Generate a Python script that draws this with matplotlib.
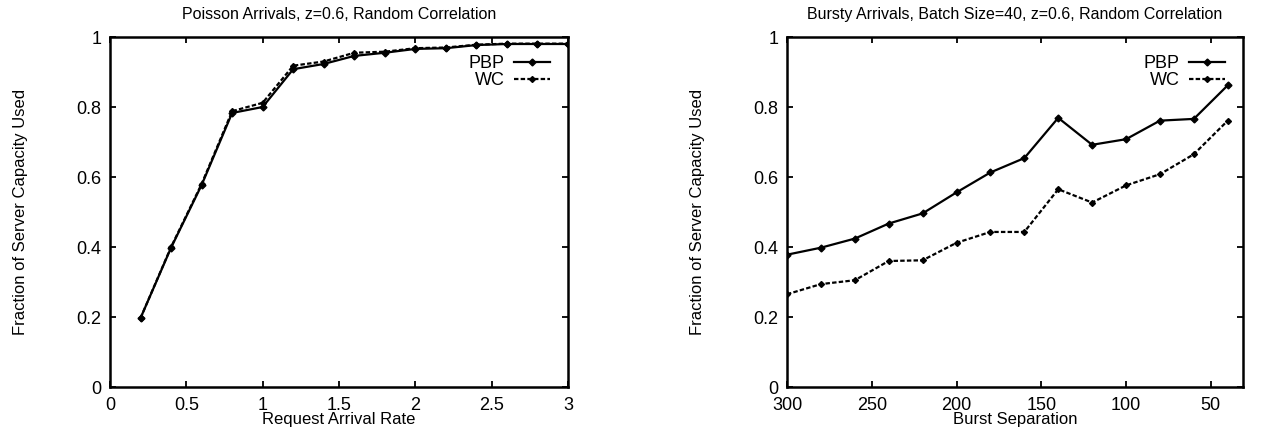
import numpy as np
import matplotlib
matplotlib.use("Agg")
import matplotlib.pyplot as plt

plt.rcParams['font.family'] = ['Liberation Sans', 'DejaVu Sans']

# left panel: poisson arrivals
rate = [0.2, 0.4, 0.6, 0.8, 1.0, 1.2, 1.4, 1.6, 1.8, 2.0, 2.2, 2.4, 2.6, 2.8, 3.0]
pbp_poisson = [0.197, 0.398, 0.577, 0.783, 0.800, 0.908, 0.923, 0.946, 0.955, 0.966, 0.968, 0.977, 0.980, 0.980, 0.980]
wc_poisson = [0.197, 0.400, 0.580, 0.788, 0.812, 0.918, 0.930, 0.955, 0.958, 0.968, 0.970, 0.978, 0.981, 0.981, 0.981]

# right panel: bursty arrivals
burst_sep = [300, 280, 260, 240, 220, 200, 180, 160, 140, 120, 100, 80, 60, 40]
pbp_bursty = [0.378, 0.398, 0.424, 0.467, 0.496, 0.556, 0.613, 0.654, 0.769, 0.692, 0.708, 0.761, 0.766, 0.862]
wc_bursty = [0.265, 0.294, 0.305, 0.360, 0.362, 0.412, 0.443, 0.443, 0.565, 0.527, 0.576, 0.608, 0.665, 0.761]

yticks = [0, 0.2, 0.4, 0.6, 0.8, 1]
ylabels_left = ['0', '0.2', '0.4', '0.6', '0.8', '1']
xticks_left = [0, 0.5, 1, 1.5, 2, 2.5, 3]
xlabels_left = ['0', '0.5', '1', '1.5', '2', '2.5', '3']
xticks_right = [300, 250, 200, 150, 100, 50]

fig = plt.figure(figsize=(12.68, 4.34), dpi=100)
ax1 = fig.add_axes([110 / 1268, 1 - 387 / 434, 458 / 1268, 350 / 434])
ax2 = fig.add_axes([787 / 1268, 1 - 387 / 434, 456 / 1268, 350 / 434])

def style(ax):
    for s in ax.spines.values():
        s.set_linewidth(1.8)
        s.set_color('black')
    ax.tick_params(direction='in', length=4, width=1.3, top=True, right=True,
                   labelsize=13)
    ax.tick_params(axis='y', pad=6)
    ax.tick_params(axis='x', pad=7)
    ax.set_ylim(0, 1)
    ax.set_yticks(yticks)
    ax.set_yticklabels(ylabels_left)
    ax.set_ylabel('Fraction of Server Capacity Used', fontsize=12, labelpad=35)

ax1.plot(rate, wc_poisson, color='black', lw=1.6, ls=(0, (2, 1)), marker='D', ms=3, label='WC')
ax1.plot(rate, pbp_poisson, color='black', lw=1.6, ls='-', marker='D', ms=3.5, label='PBP')
ax1.set_xlim(0, 3)
ax1.set_xticks(xticks_left)
ax1.set_xticklabels(xlabels_left)
style(ax1)
ax1.set_xlabel('Request Arrival Rate', fontsize=12, labelpad=-1)
ax1.set_title('Poisson Arrivals, z=0.6, Random Correlation', fontsize=11.5, pad=13)
h, l = ax1.get_legend_handles_labels()
ax1.legend(h[::-1], l[::-1], loc='upper right', frameon=False, markerfirst=False,
           fontsize=13, handlelength=2.0, handletextpad=0.5, borderaxespad=0.6,
           labelspacing=0.0)

ax2.plot(burst_sep, pbp_bursty, color='black', lw=1.6, ls='-', marker='D', ms=3.5, label='PBP')
ax2.plot(burst_sep, wc_bursty, color='black', lw=1.6, ls=(0, (2, 1)), marker='D', ms=3, label='WC')
ax2.set_xlim(300, 31)
ax2.set_xticks(xticks_right)
style(ax2)
ax2.set_xlabel('Burst Separation', fontsize=12, labelpad=-1)
ax2.set_title('Bursty Arrivals, Batch Size=40, z=0.6, Random Correlation', fontsize=11.5, pad=13)
ax2.legend(loc='upper right', frameon=False, markerfirst=False,
           fontsize=13, handlelength=2.0, handletextpad=0.5, borderaxespad=0.6,
           labelspacing=0.0)

fig.savefig('out.png', dpi=100)
